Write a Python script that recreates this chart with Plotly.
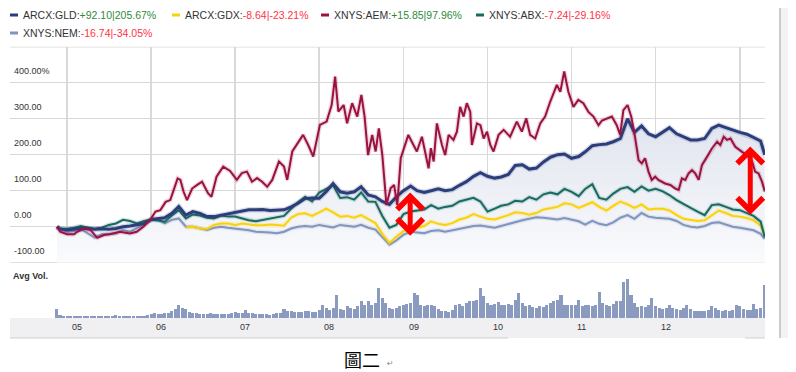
import plotly.graph_objects as go

# page is 796x372; the browser body adds an 8px margin, so the figure is 8px smaller
PAGE_W, PAGE_H = 796, 372
BODY = 8
W, H = PAGE_W - BODY, PAGE_H - BODY

# ---------------- data ----------------
MONTH_DATES = (["2004-11-18", "2004-12-01"]
               + [f"{y}-{m:02d}-01" for y in range(2005, 2013) for m in range(1, 13)]
               + ["2013-01-01", "2013-02-01", "2013-03-01", "2013-04-01", "2013-04-19"])

GLD = [0, -6,
       -9, -7, -4, -5, -7, -6, -7, -5, 0, 2, 5, 9,
       20, 23, 25, 37, 56, 32, 42, 37, 28, 28, 32, 37,
       40, 44, 47, 47, 48, 45, 46, 47, 55, 65, 78, 80,
       79, 98, 120, 97, 93, 97, 111, 88, 83, 70, 62, 83,
       100, 113, 100, 95, 100, 105, 100, 103, 115, 125, 140, 150,
       140, 135, 138, 145, 170, 172, 160, 163, 180, 193, 200, 202,
       190, 195, 208, 225, 228, 230, 236, 245, 300, 262, 280, 258,
       250, 262, 275, 258, 250, 241, 241, 245, 273, 282, 275, 268,
       262, 257, 248, 238, 200]

GDX = [None, None,
       None, None, None, None, None, None, None, None, None, None, None, None,
       None, None, None, None, None, -2, 0, -5, -6, 5, 9, 9,
       5, 9, 6, 4, 4, 6, 5, 3, 25, 35, 37, 30,
       40, 50, 40, 28, 30, 25, 32, 20, 10, -20, -45, -28,
       -12, -12, -3, 2, 15, 8, 5, 10, 20, 25, 35, 28,
       22, 20, 25, 32, 40, 38, 33, 38, 48, 52, 55, 65,
       62, 52, 60, 68, 55, 45, 58, 70, 62, 52, 62, 48,
       50, 50, 45, 32, 22, 19, 16, 18, 32, 45, 38, 30,
       28, 24, 18, 3, -23]

ABX = [0, -5,
       -6, -3, 2, -3, -6, -3, 5, 9, 19, 16, 9, 16,
       19, 17, 14, 31, 46, 23, 34, 31, 25, 23, 31, 28,
       28, 23, 18, 15, 19, 22, 25, 30, 50, 68, 83, 70,
       95, 105, 115, 80, 82, 75, 95, 70, 69, 30, -3, 5,
       35, 42, 45, 48, 60, 50, 55, 58, 70, 75, 80, 70,
       42, 50, 58, 62, 72, 70, 82, 75, 90, 95, 90, 105,
       97, 85, 105, 118, 80, 75, 92, 105, 110, 97, 112, 100,
       105, 98, 88, 74, 62, 52, 42, 32, 60, 62, 55, 48,
       46, 38, 30, 14, -29]

NEM = [0, -7,
       -14, -12, -6, -19, -30, -21, -21, -19, -9, -14, -3, 5,
       19, 19, 9, 19, 23, 0, 0, -5, -9, -3, 0, -3,
       -5, -8, -10, -14, -14, -16, -18, -14, -5, 0, 2, 0,
       5, 2, -2, 5, 2, 0, 5, -3, -8, -28, -50, -38,
       -22, -14, -15, -18, -12, -10, -14, -10, -5, -2, 2, 3,
       0, -3, 2, 8, 14, 18, 22, 26, 25, 22, 20, 24,
       20, 15, 6, 16, 8, 4, 12, 25, 32, 22, 38, 28,
       25, 24, 22, 16, 5, 0, -2, 2, 10, 12, 5, 0,
       -3, -6, -10, -20, -34]

AEM_DATES = [
    "2004-11-18", "2004-12-02", "2005-01-01", "2005-01-31", "2005-02-14", "2005-03-15",
    "2005-04-12", "2005-05-12", "2005-06-10", "2005-07-05", "2005-08-18", "2005-10-01",
    "2005-10-30", "2005-11-28", "2005-12-28", "2006-01-20", "2006-02-10", "2006-03-05",
    "2006-03-25", "2006-04-15", "2006-04-26", "2006-05-08", "2006-05-22", "2006-06-06",
    "2006-06-28", "2006-07-20", "2006-08-10", "2006-09-05", "2006-09-20", "2006-10-12",
    "2006-11-10", "2006-12-10", "2007-01-08", "2007-01-30", "2007-02-21", "2007-03-15",
    "2007-04-06", "2007-04-28", "2007-05-20", "2007-06-11", "2007-07-10", "2007-08-01",
    "2007-08-15", "2007-09-06", "2007-09-24", "2007-10-23", "2007-11-14", "2007-12-06",
    "2008-01-04", "2008-02-02", "2008-02-24", "2008-03-10", "2008-03-24", "2008-04-16",
    "2008-05-01", "2008-05-23", "2008-06-14", "2008-07-02", "2008-07-16", "2008-07-31",
    "2008-08-18", "2008-09-02", "2008-09-16", "2008-10-01", "2008-10-19", "2008-11-06",
    "2008-11-21", "2008-12-05", "2008-12-20", "2009-01-07", "2009-01-22", "2009-02-06",
    "2009-02-28", "2009-03-22", "2009-04-06", "2009-04-20", "2009-04-30", "2009-05-12",
    "2009-05-26", "2009-06-17", "2009-07-01", "2009-07-16", "2009-08-06", "2009-08-21",
    "2009-09-04", "2009-09-19", "2009-10-03", "2009-10-18", "2009-10-25", "2009-11-16",
    "2009-12-01", "2009-12-15", "2009-12-30", "2010-01-13", "2010-01-27", "2010-02-18",
    "2010-03-12", "2010-04-09", "2010-05-08", "2010-05-30", "2010-06-18", "2010-07-05",
    "2010-07-27", "2010-08-18", "2010-09-08", "2010-09-30", "2010-10-29", "2010-11-13",
    "2010-11-30", "2010-12-18", "2011-01-09", "2011-01-30", "2011-02-21", "2011-03-15",
    "2011-04-06", "2011-04-28", "2011-05-13", "2011-06-03", "2011-06-25", "2011-07-16",
    "2011-07-31", "2011-08-14", "2011-09-01", "2011-09-17", "2011-10-01", "2011-10-19",
    "2011-11-02", "2011-11-16", "2011-12-01", "2011-12-15", "2011-12-30", "2012-01-13",
    "2012-01-28", "2012-02-11", "2012-03-05", "2012-03-26", "2012-04-10", "2012-04-24",
    "2012-05-09", "2012-05-23", "2012-06-07", "2012-06-21", "2012-07-06", "2012-07-20",
    "2012-08-11", "2012-09-02", "2012-09-24", "2012-10-08", "2012-10-23", "2012-11-06",
    "2012-11-21", "2012-12-12", "2013-01-10", "2013-02-01", "2013-02-23", "2013-03-08",
    "2013-03-23", "2013-04-07", "2013-04-19"]

AEM = [
    0, -14, -21, -21, -14, -5,
    -9, -31, -23, -21, -14, -19,
    -14, 0, 19, 42, 46, 69,
    74, 116, 134, 130, 97, 74,
    106, 116, 125, 93, 83, 139,
    167, 155, 130, 149, 153, 125,
    135, 125, 111, 130, 181, 167,
    130, 209, 227, 255, 227, 195,
    283, 292, 338, 417, 320, 338,
    287, 343, 306, 366, 306, 199,
    255, 209, 273, 199, 60, 107,
    116, 60, 190, 227, 255, 236,
    209, 250, 209, 162, 218, 181,
    287, 227, 199, 255, 241, 264,
    333, 306, 343, 319, 227, 287,
    282, 245, 264, 227, 209, 255,
    269, 250, 292, 264, 301, 255,
    245, 287, 306, 347, 394, 375,
    431, 375, 333, 352, 343, 319,
    306, 282, 295, 300, 306, 282,
    255, 324, 338, 306, 259, 185,
    176, 190, 153, 130, 139, 130,
    125, 120, 116, 106, 102, 134,
    130, 148, 157, 148, 130, 171,
    194, 218, 236, 227, 250, 241,
    245, 222, 208, 199, 181, 153,
    148, 125, 98]

VOL_DATES = (["2004-11-16", "2004-12-01", "2004-12-16"]
             + [f"{y}-{m:02d}-{d}" for y in range(2005, 2013) for m in range(1, 13) for d in ("01", "16")]
             + [f"2013-{m:02d}-{d}" for m in range(1, 5) for d in ("01", "16")])

VOL = [28, 8, 6,
       6, 5, 5, 6, 5, 5, 6, 5, 5, 5, 6, 5, 5, 6, 8, 5, 5, 6, 6, 5, 7, 7, 6, 8,
       12, 14, 13, 12, 14, 15, 20, 28, 38, 30, 26, 18, 15, 14, 13, 12, 12, 14, 11, 12, 13, 12, 12, 14,
       18, 14, 16, 23, 15, 14, 13, 12, 13, 12, 10, 12, 14, 16, 28, 22, 20, 18, 19, 18, 22, 20, 18, 17,
       25, 40, 30, 25, 30, 70, 28, 25, 35, 30, 28, 35, 50, 40, 50, 40, 45, 90, 60, 45, 30, 28, 30, 35,
       38, 43, 45, 75, 68, 38, 35, 38, 40, 35, 28, 22, 20, 18, 25, 40, 43, 35, 45, 50, 50, 55, 90, 65,
       45, 40, 42, 48, 40, 38, 42, 40, 55, 75, 45, 35, 40, 33, 30, 35, 33, 38, 45, 50, 55, 68, 40, 38,
       38, 40, 55, 35, 38, 40, 35, 40, 78, 45, 38, 35, 42, 50, 50, 108, 116, 68, 45, 33, 35, 33, 38, 60,
       35, 30, 28, 30, 40, 30, 28, 25, 30, 38, 28, 22, 20, 22, 20, 25, 35, 30, 25, 22, 24, 22, 25, 40,
       35, 28, 25, 25, 43, 28, 30, 98]

YEAR_LABELS = ["05", "06", "07", "08", "09", "10", "11", "12"]
YEAR_STARTS = [f"20{t}-01-01" for t in YEAR_LABELS]
Y_TICKS = [400, 300, 200, 100, 0, -100]
Y_TICK_TEXT = ["400.00%", "300.00", "200.00", "100.00", "0.00", "-100.00"]

LEGEND = [
    ("ARCX:GLD:", "+92.10|205.67%", "#2c3d7b", True),
    ("ARCX:GDX:", "-8.64|-23.21%", "#fbd20a", False),
    ("XNYS:AEM:", "+15.85|97.96%", "#9b1240", True),
    ("XNYS:ABX:", "-7.24|-29.16%", "#176a60", False),
    ("XNYS:NEM:", "-16.74|-34.05%", "#8094bd", False),
]
COL_GLD, COL_GDX, COL_AEM, COL_ABX, COL_NEM = [c for _, _, c, _ in LEGEND]

# red double arrows (date, low, high)
ARROWS = [("2009-01-30", -25, 99), ("2013-02-15", 33, 227)]

Y_MIN, Y_MAX = -100, 500
VOL_MAX = 162
X_RANGE = ["2004-04-28", "2013-04-20"]

# ---------------- geometry helpers (page pixels -> paper fractions) ----------------
def fx(px):
    return (px - BODY) / W

def fy(py):
    return (PAGE_H - py) / H

X0, X1 = 10, 765
MAIN_TOP, MAIN_BOT = 46.7, 262.7
VOL_TOP, VOL_BOT = 264, 318

GRID = "#d9d9d9"
FONT = "Liberation Sans"

fig = go.Figure()

# GLD filled area (baseline at axis minimum)
fig.add_trace(go.Scatter(x=MONTH_DATES, y=[Y_MIN] * len(MONTH_DATES), mode="lines",
                         line=dict(width=0, color="rgba(0,0,0,0)"), hoverinfo="skip",
                         showlegend=False))
fig.add_trace(go.Scatter(x=MONTH_DATES, y=GLD, mode="lines", fill="tonexty",
                         fillgradient=dict(type="vertical",
                                           colorscale=[[0, "rgba(250,251,253,1)"],
                                                       [1, "rgba(224,228,238,1)"]]),
                         line=dict(width=0, color="rgba(0,0,0,0)"), hoverinfo="skip",
                         showlegend=False))

def add_line(x, y, color, width):
    fig.add_trace(go.Scatter(x=x, y=y, mode="lines", connectgaps=False,
                             line=dict(color=color, width=width + 2.5),
                             opacity=0.18, hoverinfo="skip", showlegend=False))
    fig.add_trace(go.Scatter(x=x, y=y, mode="lines", connectgaps=False,
                             line=dict(color=color, width=width),
                             hoverinfo="skip", showlegend=False))

add_line(MONTH_DATES, NEM, COL_NEM, 2)
add_line(MONTH_DATES, GDX, COL_GDX, 2)
add_line(MONTH_DATES, ABX, COL_ABX, 2)
add_line(MONTH_DATES, GLD, COL_GLD, 3)
add_line(AEM_DATES, AEM, COL_AEM, 2)

# volume
fig.add_trace(go.Bar(x=VOL_DATES, y=VOL, xaxis="x2", yaxis="y2",
                     marker=dict(color="#8b9abf", line=dict(width=0)),
                     width=1.15e9, hoverinfo="skip", showlegend=False))

shapes = []
annotations = []

# border lines top/bottom of main panel
for v in (Y_MIN, Y_MAX):
    shapes.append(dict(type="line", xref="paper", yref="y", x0=fx(X0), x1=fx(X1),
                       y0=v, y1=v, line=dict(color=GRID, width=1.5), layer="below"))

# x-label band
shapes.append(dict(type="rect", xref="paper", yref="paper", x0=fx(X0), x1=fx(X1),
                   y0=fy(338), y1=fy(VOL_BOT), fillcolor="#f0f0f3", line=dict(width=0),
                   layer="below"))
shapes.append(dict(type="line", xref="paper", yref="paper", x0=fx(X0), x1=fx(508),
                   y0=fy(338), y1=fy(338), line=dict(color="#cfcfcf", width=1)))
shapes.append(dict(type="line", xref="paper", yref="paper", x0=fx(745), x1=fx(X1),
                   y0=fy(338), y1=fy(338), line=dict(color="#cfcfcf", width=1)))
# right side panel
shapes.append(dict(type="rect", xref="paper", yref="paper", x0=fx(781), x1=1,
                   y0=fy(338), y1=1, fillcolor="#f3f3f3", line=dict(width=0)))
shapes.append(dict(type="line", xref="paper", yref="paper", x0=fx(780), x1=fx(780),
                   y0=fy(338), y1=1, line=dict(color="#cccccc", width=2)))

# legend
leg_pos = [(10, 15), (172, 15), (321, 15), (476, 15), (10, 33)]
for (name, val, col, pos), (lx, ly) in zip(LEGEND, leg_pos):
    shapes.append(dict(type="rect", xref="paper", yref="paper", x0=fx(lx), x1=fx(lx + 8),
                       y0=fy(ly + 1.5), y1=fy(ly - 1.5), fillcolor=col, line=dict(width=0)))
    vcol = "#2f8a3c" if pos else "#ff3344"
    annotations.append(dict(xref="paper", yref="paper", x=fx(lx + 11), y=fy(ly),
                            xanchor="left", yanchor="middle", showarrow=False,
                            text=f"{name}<span style='color:{vcol}'>{val}</span>",
                            font=dict(family=FONT, size=10.5, color="#333333")))

# y tick labels inside the plot
for v, t in zip(Y_TICKS, Y_TICK_TEXT):
    annotations.append(dict(xref="paper", yref="y", x=fx(12), y=v, yshift=12,
                            xanchor="left", yanchor="middle", showarrow=False, text=t,
                            font=dict(family=FONT, size=9, color="#333333")))

# year labels
for d, t in zip(YEAR_STARTS, YEAR_LABELS):
    annotations.append(dict(xref="x", yref="paper", x=d, y=fy(327), xshift=3,
                            xanchor="left", yanchor="middle", showarrow=False, text=t,
                            font=dict(family=FONT, size=9, color="#333333")))

annotations.append(dict(xref="paper", yref="paper", x=fx(11), y=fy(276), xanchor="left",
                        yanchor="middle", showarrow=False, text="<b>Avg Vol.</b>",
                        font=dict(family=FONT, size=9, color="#333333")))

# red arrows
for d, lo, hi in ARROWS:
    annotations.append(dict(xref="x", yref="y", axref="x", ayref="y", x=d, y=lo, ax=d, ay=hi,
                            text="", showarrow=True, arrowside="end+start",
                            arrowhead=4, startarrowhead=4, arrowsize=1.0, startarrowsize=1.0,
                            arrowwidth=5, arrowcolor="#ff0000", standoff=0, startstandoff=0))

# caption
annotations.append(dict(xref="paper", yref="paper", x=fx(362), y=fy(359), xanchor="center",
                        yanchor="middle", showarrow=False, text="圖二",
                        font=dict(family="Noto Sans CJK TC", size=18, color="#000000")))
annotations.append(dict(xref="paper", yref="paper", x=fx(385), y=fy(363), xanchor="left",
                        yanchor="middle", showarrow=False, text="↵",
                        font=dict(family="DejaVu Sans", size=8, color="#888888")))

fig.update_layout(
    width=W, height=H, autosize=False,
    margin=dict(l=0, r=0, t=0, b=0),
    paper_bgcolor="white", plot_bgcolor="rgba(0,0,0,0)",
    showlegend=False, hovermode=False,
    bargap=0,
    xaxis=dict(domain=[fx(X0), fx(X1)], range=X_RANGE, type="date",
               showgrid=True, gridcolor=GRID, gridwidth=1.5,
               tick0="2005-01-01", dtick="M12", showticklabels=False, ticks="",
               zeroline=False, showline=False, anchor="y"),
    yaxis=dict(domain=[fy(MAIN_BOT), fy(MAIN_TOP)], range=[Y_MIN, Y_MAX], dtick=100,
               showgrid=True, gridcolor=GRID, gridwidth=1.5, zeroline=False,
               showticklabels=False, ticks="", showline=False, anchor="x"),
    xaxis2=dict(domain=[fx(X0), fx(X1)], range=X_RANGE, type="date", matches="x",
                showgrid=False, showticklabels=False, ticks="", zeroline=False, anchor="y2"),
    yaxis2=dict(domain=[fy(VOL_BOT), fy(VOL_TOP)], range=[0, VOL_MAX], showgrid=False,
                showticklabels=False, ticks="", zeroline=False, anchor="x2"),
    shapes=shapes, annotations=annotations,
)

fig.write_html("out.html", config={"displayModeBar": False, "staticPlot": True})
